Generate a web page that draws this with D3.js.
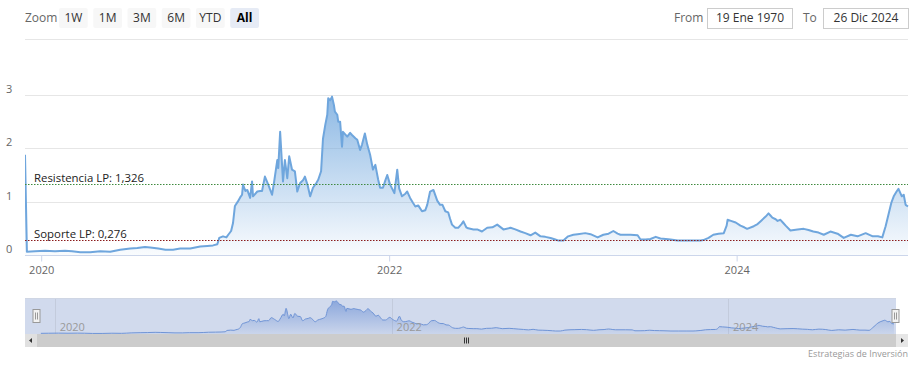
<!DOCTYPE html>
<html>
<head>
<meta charset="utf-8">
<script src="https://cdn.jsdelivr.net/npm/d3@7"></script>
<style>
  html, body { margin: 0; padding: 0; background: #fff; }
  svg { display: block; font-family: "Open Sans", "Liberation Sans", sans-serif; }
</style>
</head>
<body>
<svg id="chart" width="920" height="365"></svg>
<script>
// ---------------- DATA ----------------
const dates = [
  "2019-11-28","2019-12-02","2019-12-19","2020-01-09","2020-01-30","2020-02-20","2020-03-06","2020-03-23",
  "2020-04-13","2020-05-04","2020-05-25","2020-06-15","2020-07-06","2020-07-21","2020-08-06","2020-08-17",
  "2020-09-03","2020-09-18","2020-10-04","2020-10-19","2020-11-09","2020-11-30","2020-12-15","2020-12-27",
  "2021-01-05","2021-01-09","2021-01-17","2021-01-24","2021-01-28","2021-02-03","2021-02-07","2021-02-11",
  "2021-02-17","2021-02-22","2021-02-26","2021-02-28","2021-03-05","2021-03-09","2021-03-15","2021-03-19",
  "2021-03-21","2021-03-30","2021-04-05","2021-04-09","2021-04-15","2021-04-22","2021-04-30","2021-05-04",
  "2021-05-11","2021-05-13","2021-05-17","2021-05-21","2021-05-23","2021-05-27","2021-06-01","2021-06-05",
  "2021-06-11","2021-06-17","2021-06-22","2021-06-28","2021-07-04","2021-07-08","2021-07-14","2021-07-19",
  "2021-07-25","2021-08-01","2021-08-05","2021-08-11","2021-08-15","2021-08-20","2021-08-24","2021-08-26",
  "2021-08-30","2021-09-03","2021-09-07","2021-09-09","2021-09-14","2021-09-16","2021-09-20","2021-09-24",
  "2021-09-26","2021-10-05","2021-10-11","2021-10-15","2021-10-22","2021-10-26","2021-11-01","2021-11-05",
  "2021-11-11","2021-11-16","2021-11-22","2021-11-28","2021-12-03","2021-12-09","2021-12-13","2021-12-19",
  "2021-12-24","2021-12-28","2022-01-03","2022-01-12","2022-01-18","2022-01-22","2022-01-28","2022-02-04",
  "2022-02-08","2022-02-14","2022-02-20","2022-02-25","2022-03-03","2022-03-11","2022-03-18","2022-03-22",
  "2022-03-28","2022-04-04","2022-04-12","2022-04-18","2022-04-23","2022-04-29","2022-05-05","2022-05-09",
  "2022-05-13","2022-05-20","2022-05-26","2022-06-02","2022-06-06","2022-06-12","2022-06-16","2022-06-27",
  "2022-07-05","2022-07-15","2022-07-26","2022-08-06","2022-08-16","2022-08-29","2022-09-13","2022-09-23",
  "2022-10-04","2022-10-14","2022-10-25","2022-11-04","2022-11-15","2022-11-25","2022-12-06","2022-12-16",
  "2022-12-23","2023-01-02","2023-01-12","2023-01-23","2023-02-01","2023-02-17","2023-02-28","2023-03-15",
  "2023-03-27","2023-04-07","2023-04-17","2023-04-26","2023-05-02","2023-05-23","2023-06-07","2023-06-13",
  "2023-06-24","2023-07-04","2023-07-15","2023-07-25","2023-08-05","2023-08-15","2023-08-30","2023-09-16",
  "2023-10-02","2023-10-17","2023-10-23","2023-11-03","2023-11-13","2023-11-24","2023-12-05","2023-12-11",
  "2023-12-13","2023-12-20","2023-12-30","2024-01-09","2024-01-17","2024-01-23","2024-02-06","2024-02-14",
  "2024-02-20","2024-03-02","2024-03-08","2024-03-12","2024-03-16","2024-03-23","2024-03-27","2024-04-02",
  "2024-04-08","2024-04-13","2024-04-23","2024-05-08","2024-05-21","2024-05-31","2024-06-10","2024-06-21",
  "2024-07-02","2024-07-16","2024-07-31","2024-08-13","2024-08-28","2024-09-11","2024-09-28","2024-10-13",
  "2024-10-24","2024-11-02","2024-11-09","2024-11-15","2024-11-21","2024-11-26","2024-12-02","2024-12-06",
  "2024-12-13","2024-12-17","2024-12-21","2024-12-26"
];
const values = [
  1.88,0.06,0.07,0.08,0.07,0.08,0.07,0.05,
  0.05,0.07,0.06,0.10,0.12,0.13,0.15,0.14,
  0.12,0.10,0.10,0.12,0.12,0.16,0.17,0.18,
  0.20,0.32,0.35,0.33,0.38,0.45,0.60,0.92,
  1.00,1.08,1.13,1.32,1.20,1.22,1.07,1.38,
  1.10,1.19,1.20,1.20,1.47,1.32,1.13,1.35,
  1.78,1.63,2.31,1.69,1.38,1.78,1.44,1.85,
  1.60,1.57,1.19,1.35,1.40,1.47,1.30,1.10,
  1.26,1.35,1.41,1.57,2.18,2.45,2.63,2.94,
  2.90,2.97,2.81,2.69,2.63,2.50,2.50,2.03,
  2.31,2.22,2.29,2.25,2.19,2.16,1.97,2.07,
  2.28,2.07,1.88,1.60,1.69,1.41,1.26,1.26,
  1.40,1.50,1.32,1.16,1.60,1.25,1.10,1.15,
  1.19,1.07,0.98,0.91,0.93,0.82,0.84,0.94,
  1.19,1.22,1.02,0.94,0.94,0.82,0.80,0.68,
  0.57,0.51,0.51,0.58,0.63,0.52,0.50,0.48,
  0.48,0.44,0.51,0.52,0.57,0.48,0.51,0.48,
  0.44,0.41,0.37,0.42,0.35,0.34,0.32,0.29,
  0.27,0.27,0.35,0.38,0.39,0.41,0.39,0.33,
  0.38,0.40,0.45,0.40,0.38,0.38,0.37,0.29,
  0.29,0.30,0.34,0.31,0.30,0.29,0.27,0.27,
  0.27,0.27,0.28,0.32,0.38,0.40,0.41,0.55,
  0.66,0.64,0.61,0.55,0.52,0.49,0.54,0.58,
  0.63,0.72,0.78,0.74,0.70,0.67,0.64,0.66,
  0.60,0.55,0.46,0.48,0.49,0.47,0.44,0.42,
  0.38,0.44,0.40,0.32,0.38,0.35,0.41,0.35,
  0.35,0.33,0.54,0.76,0.98,1.10,1.19,1.24,
  1.10,1.13,0.94,0.91
];
const yTicks = [0, 1, 2, 3];
const yMax = 4.05;
const xTickDates = ["2020-01-01", "2022-01-01", "2024-01-01"];
const xTickLabels = ["2020", "2022", "2024"];
const resistanceValue = 1.326;
const resistanceLabel = "Resistencia LP: 1,326";
const supportValue = 0.276;
const supportLabel = "Soporte LP: 0,276";
const zoomLabel = "Zoom";
const zoomButtons = ["1W", "1M", "3M", "6M", "YTD", "All"];
const selectedButton = "All";
const fromLabel = "From";
const fromDate = "19 Ene 1970";
const toLabel = "To";
const toDate = "26 Dic 2024";
const creditText = "Estrategias de Inversión";

// ---------------- SETUP ----------------
const parse = d3.timeParse("%Y-%m-%d");
const data = dates.map((d, i) => ({ date: parse(d), value: values[i] }));
const svg = d3.select("#chart");

const L = 25, R = 908, T = 39, B = 255;
const x = d3.scaleTime().domain(d3.extent(data, d => d.date)).range([L, R]);
const y = d3.scaleLinear().domain([0, yMax]).range([B, T]);

const defs = svg.append("defs");
const g1 = defs.append("linearGradient").attr("id", "areaGrad")
  .attr("gradientUnits", "userSpaceOnUse").attr("x1", 0).attr("x2", 0).attr("y1", y(3)).attr("y2", B);
g1.append("stop").attr("offset", 0).attr("stop-color", "#6fa6dd").attr("stop-opacity", 0.8);
g1.append("stop").attr("offset", 1).attr("stop-color", "#6fa6dd").attr("stop-opacity", 0.04);

defs.append("clipPath").attr("id", "plotClip").append("rect")
  .attr("x", L).attr("y", T - 5).attr("width", R - L + 1).attr("height", B - T + 5);

// ---------------- RANGE SELECTOR ----------------
svg.append("text").attr("x", 25).attr("y", 22).attr("fill", "#666").attr("font-size", 12).text(zoomLabel);
const btnX = d3.scaleBand().domain(zoomButtons).range([59, 259]).paddingInner(0.16).paddingOuter(0);
zoomButtons.forEach(b => {
  const sel = b === selectedButton;
  svg.append("rect").attr("x", btnX(b)).attr("y", 8).attr("width", btnX.bandwidth()).attr("height", 20)
    .attr("rx", 2).attr("fill", sel ? "#e6ebf5" : "#f7f7f7");
  svg.append("text").attr("x", btnX(b) + btnX.bandwidth() / 2).attr("y", 22)
    .attr("text-anchor", "middle").attr("font-size", 12)
    .attr("font-weight", sel ? "bold" : "normal").attr("fill", sel ? "#000" : "#333").text(b);
});
svg.append("text").attr("x", 674).attr("y", 22).attr("fill", "#666").attr("font-size", 12).text(fromLabel);
svg.append("rect").attr("x", 707.5).attr("y", 8.5).attr("width", 85).attr("height", 20)
  .attr("fill", "#fff").attr("stroke", "#cccccc");
svg.append("text").attr("x", 750).attr("y", 22).attr("text-anchor", "middle").attr("fill", "#333").attr("font-size", 12).text(fromDate);
svg.append("text").attr("x", 803).attr("y", 22).attr("fill", "#666").attr("font-size", 12).text(toLabel);
svg.append("rect").attr("x", 823.5).attr("y", 8.5).attr("width", 85).attr("height", 20)
  .attr("fill", "#fff").attr("stroke", "#cccccc");
svg.append("text").attr("x", 866).attr("y", 22).attr("text-anchor", "middle").attr("fill", "#333").attr("font-size", 12).text(toDate);

// ---------------- GRID & AXES ----------------
svg.append("line").attr("x1", L).attr("x2", R).attr("y1", T + 0.5).attr("y2", T + 0.5).attr("stroke", "#e6e6e6");
const gy = svg.append("g");
yTicks.forEach(t => {
  if (t > 0) gy.append("line").attr("x1", L).attr("x2", R).attr("y1", Math.round(y(t)) + 0.5).attr("y2", Math.round(y(t)) + 0.5)
    .attr("stroke", "#e6e6e6");
  gy.append("text").attr("x", 6).attr("y", y(t) - 2).attr("font-size", 11).attr("fill", "#666").text(t);
});

// x axis
const xAxis = d3.axisBottom(x).tickValues(xTickDates.map(parse)).tickFormat((d, i) => xTickLabels[i]).tickSize(6).tickSizeOuter(0);
const gx = svg.append("g").attr("transform", `translate(0,${B + 0.5})`).call(xAxis);
gx.select(".domain").attr("stroke", "#ccd6eb").attr("d", `M${L},0H${R}`);
gx.selectAll(".tick line").attr("stroke", "#ccd6eb");
gx.selectAll(".tick text").attr("fill", "#666").attr("font-size", 11).attr("dy", null).attr("y", 18)
  .attr("font-family", "'Open Sans', sans-serif");

// ---------------- SERIES ----------------
const plot = svg.append("g").attr("clip-path", "url(#plotClip)");
const area = d3.area().x(d => x(d.date)).y0(y(0)).y1(d => y(d.value));
const line = d3.line().x(d => x(d.date)).y(d => y(d.value));
plot.append("path").datum(data).attr("d", area).attr("fill", "url(#areaGrad)");
plot.append("path").datum(data).attr("d", line).attr("fill", "none")
  .attr("stroke", "#6fa6dd").attr("stroke-width", 2).attr("stroke-linejoin", "round");

// ---------------- PLOT LINES ----------------
[[resistanceValue, resistanceLabel, "#3f8a3f"], [supportValue, supportLabel, "#8b1a1a"]].forEach(([v, lab, col]) => {
  const yy = Math.round(y(v)) + 0.5;
  svg.append("line").attr("x1", L).attr("x2", R).attr("y1", yy).attr("y2", yy)
    .attr("stroke", col).attr("stroke-width", 1).attr("stroke-dasharray", "1.5,1.5");
  svg.append("text").attr("x", 34).attr("y", yy - 3).attr("font-size", 11.4).attr("fill", "#222").text(lab);
});

// ---------------- NAVIGATOR ----------------
const NT = 298, NB = 334, NL = 39, NR = 894;
const xn = d3.scaleTime().domain(x.domain()).range([NL, NR]);
const navData = data.slice(1);
const yn = d3.scaleLinear().domain([0, d3.max(navData, d => d.value)]).range([NB, NT + 3]);

const g2 = defs.append("linearGradient").attr("id", "navGrad")
  .attr("gradientUnits", "userSpaceOnUse").attr("x1", 0).attr("x2", 0).attr("y1", NT).attr("y2", NB);
g2.append("stop").attr("offset", 0).attr("stop-color", "#4a78cc").attr("stop-opacity", 0.55);
g2.append("stop").attr("offset", 1).attr("stop-color", "#4a78cc").attr("stop-opacity", 0.05);

svg.append("rect").attr("x", 25).attr("y", NT).attr("width", 896 - 25).attr("height", NB - NT)
  .attr("fill", "rgb(209,218,237)");
xTickDates.forEach((d, i) => {
  const xx = Math.round(xn(parse(d))) + 0.5;
  svg.append("line").attr("x1", xx).attr("x2", xx).attr("y1", NT).attr("y2", NB).attr("stroke", "#c3cbdc");
});
const navArea = d3.area().x(d => xn(d.date)).y0(NB).y1(d => yn(d.value)).curve(d3.curveMonotoneX);
const navLine = d3.line().x(d => xn(d.date)).y(d => yn(d.value)).curve(d3.curveMonotoneX);
svg.append("path").datum(navData).attr("d", navArea).attr("fill", "url(#navGrad)");
svg.append("path").datum(navData).attr("d", navLine).attr("fill", "none").attr("stroke", "#6f94d6").attr("stroke-width", 1);
xTickDates.forEach((d, i) => {
  svg.append("text").attr("x", xn(parse(d)) + 5).attr("y", 331).attr("font-size", 11).attr("fill", "#999").text(xTickLabels[i]);
});
svg.append("line").attr("x1", 25).attr("x2", 896).attr("y1", NT + 0.5).attr("y2", NT + 0.5).attr("stroke", "#cfd6e4");

// handles
[36.5, 895.5].forEach(hx => {
  svg.append("rect").attr("x", hx - 3.5).attr("y", 309.5).attr("width", 7).attr("height", 13)
    .attr("fill", "#f2f2f2").attr("stroke", "#999").attr("stroke-width", 1);
  [-1, 1].forEach(o => svg.append("line").attr("x1", hx + o).attr("x2", hx + o).attr("y1", 312.5).attr("y2", 319.5)
    .attr("stroke", "#999"));
});

// scrollbar
const SBT = 334, SBH = 13;
svg.append("rect").attr("x", 25).attr("y", SBT).attr("width", 883).attr("height", SBH).attr("fill", "#f2f2f2");
svg.append("rect").attr("x", 37).attr("y", SBT).attr("width", 896 - 37).attr("height", SBH).attr("fill", "#cccccc");
svg.append("rect").attr("x", 25).attr("y", SBT).attr("width", 12).attr("height", SBH).attr("fill", "#e0e0e0");
svg.append("rect").attr("x", 896).attr("y", SBT).attr("width", 12).attr("height", SBH).attr("fill", "#e6e6e6");
svg.append("path").attr("d", `M32,${SBT + 4}L29,${SBT + 6.5}L32,${SBT + 9}Z`).attr("fill", "#333");
svg.append("path").attr("d", `M901,${SBT + 4}L904,${SBT + 6.5}L901,${SBT + 9}Z`).attr("fill", "#333");
[-2, 0, 2].forEach(o => svg.append("line").attr("x1", 466.5 + o).attr("x2", 466.5 + o)
  .attr("y1", SBT + 3.5).attr("y2", SBT + 9.5).attr("stroke", "#333"));

// credits
svg.append("text").attr("x", 908).attr("y", 357).attr("text-anchor", "end").attr("font-size", 9).attr("fill", "#999").text(creditText);
</script>
</body>
</html>
